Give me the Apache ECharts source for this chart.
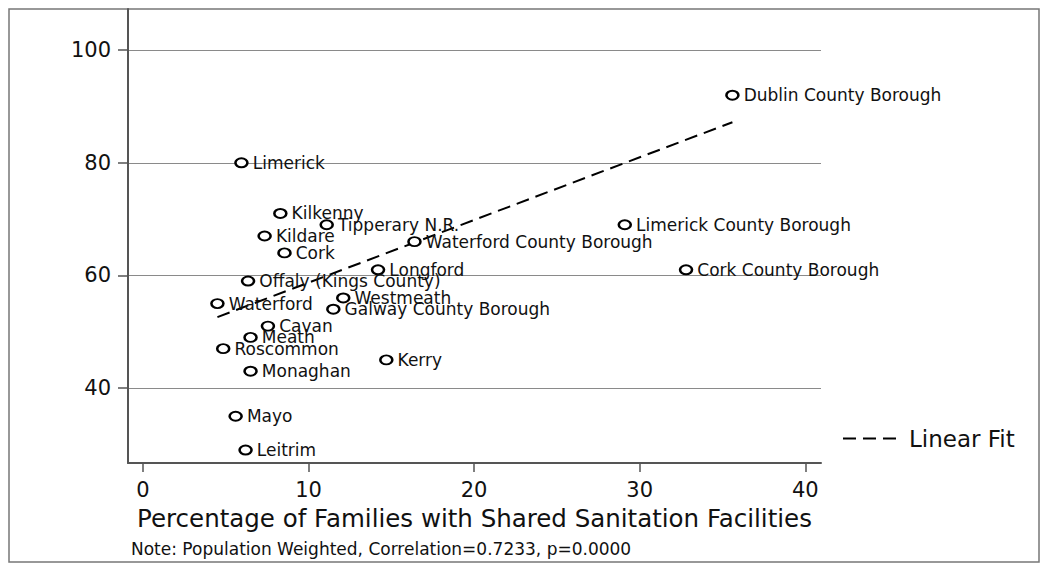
<!DOCTYPE html>
<html>
<head>
<meta charset="utf-8">
<script src="https://cdn.jsdelivr.net/npm/echarts@6/dist/echarts.min.js"></script>
<style>
html,body{margin:0;padding:0;background:#fff;}
#chart{width:1050px;height:570px;}
</style>
</head>
<body>
<div id="chart"></div>
<script>
const counties = ["Dublin County Borough","Limerick","Kilkenny","Tipperary N.R.","Kildare","Waterford County Borough","Cork","Limerick County Borough","Longford","Cork County Borough","Offaly (Kings County)","Westmeath","Waterford","Galway County Borough","Cavan","Meath","Roscommon","Kerry","Monaghan","Mayo","Leitrim"];
const sharedSanitation = [35.6,5.95,8.3,11.1,7.35,16.4,8.55,29.1,14.2,32.8,6.35,12.1,4.5,11.5,7.55,6.5,4.85,14.7,6.5,5.6,6.2];
const literacy = [92,80,71,69,67,66,64,69,61,61,59,56,55,54,51,49,47,45,43,35,29];
const fitX = [4.5, 35.6];
const fitY = [52.6, 87.2];
const xTicks = [0,10,20,30,40];
const yTicks = [40,60,80,100];
const xTitle = "Percentage of Families with Shared Sanitation Facilities";
const noteText = "Note: Population Weighted, Correlation=0.7233, p=0.0000";
const fitName = "Linear Fit";

const FONT = "DejaVu Sans";
const chart = echarts.init(document.getElementById('chart'), null, {renderer:'svg'});
const pts = counties.map((n,i)=>({name:n, value:[sharedSanitation[i], literacy[i]]}));
const fitData = fitX.map((x,i)=>[x, fitY[i]]);

chart.setOption({
  animation:false,
  backgroundColor:'#fff',
  grid:{left:128, right:229, top:9, bottom:107, containLabel:false},
  xAxis:{
    type:'value', min:-0.9, max:40.95,
    axisLine:{show:true, onZero:false, lineStyle:{color:'#555', width:2}},
    axisTick:{show:true, length:9, customValues:xTicks, lineStyle:{color:'#555', width:1.5}},
    axisLabel:{customValues:xTicks, margin:16, fontFamily:FONT, fontSize:21, color:'#111'},
    splitLine:{show:false},
    name:xTitle, nameLocation:'middle', nameGap:43,
    nameTextStyle:{fontFamily:FONT, fontSize:24.5, color:'#111'}
  },
  yAxis:{
    type:'value', min:26.7, max:107.3,
    axisLine:{show:true, onZero:false, lineStyle:{color:'#555', width:2}},
    axisTick:{show:true, length:10, customValues:yTicks, lineStyle:{color:'#555', width:1.5}},
    axisLabel:{customValues:yTicks, margin:17, fontFamily:FONT, fontSize:21, color:'#111'},
    splitLine:{show:true, lineStyle:{color:'#8a8a8a', width:1}}
  },
  legend:{
    data:[fitName], left:837, top:422, itemWidth:53, itemHeight:14,
    itemStyle:{opacity:0},
    textStyle:{fontFamily:FONT, fontSize:23, color:'#111', padding:[0,0,0,8]}
  },
  graphic:[
    {type:'rect', shape:{x:9, y:9, width:1030, height:553}, style:{fill:'none', stroke:'#777', lineWidth:1.5}, silent:true, z:-1},
    {type:'text', left:131, top:540, style:{text:noteText, fontFamily:FONT, fontSize:17, fill:'#111'}}
  ],
  series:[
    {
      type:'scatter', name:'Counties', data:pts,
      symbol:'path://M0,50A50,50 0 1,1 100,50A50,50 0 1,1 0,50Z',
      symbolSize:[12,9],
      itemStyle:{color:'#fff', borderColor:'#000', borderWidth:2.2, opacity:1},
      label:{show:true, position:'right', distance:4, formatter:'{b}', fontFamily:FONT, fontSize:17, color:'#111'},
      z:3
    },
    {
      type:'line', name:fitName, data:fitData, symbol:'none', showSymbol:false,
      lineStyle:{color:'#000', width:2, type:[13,7]},
      itemStyle:{color:'#000'},
      z:2
    }
  ]
});
</script>
</body>
</html>
